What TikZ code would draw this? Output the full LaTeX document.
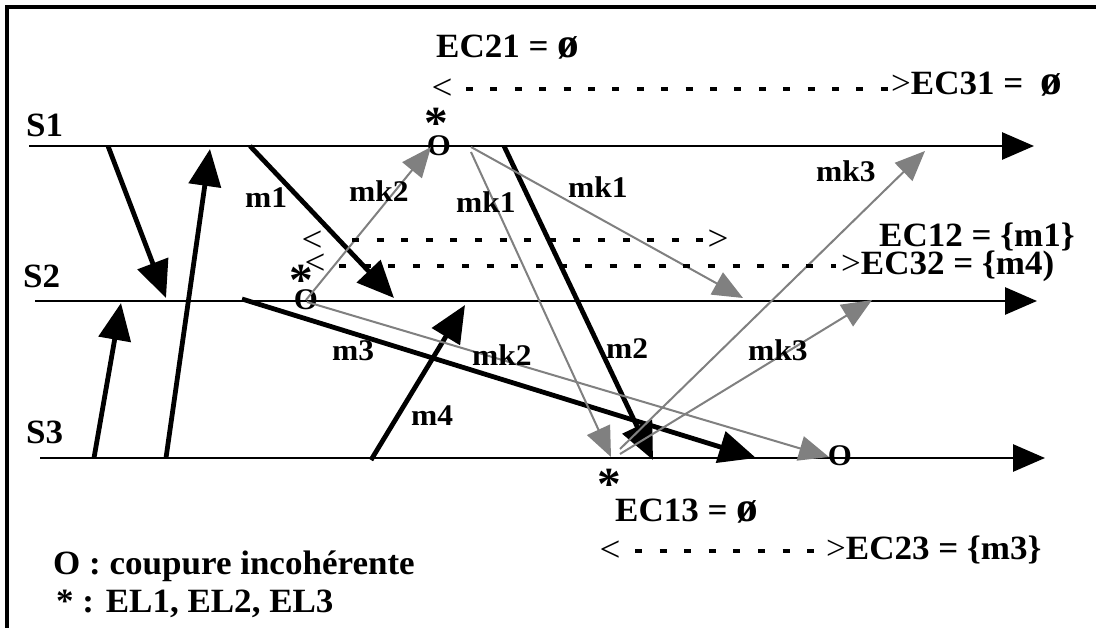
\documentclass[tikz,border=0pt]{standalone}
\usepackage{fontspec}
\setmainfont{Liberation Serif}
\newfontfamily\lblfont[FakeStretch=1.03]{Liberation Serif}
\newfontfamily\msgfont[FakeStretch=1.05]{Liberation Serif}
\usetikzlibrary{arrows.meta}
\definecolor{ckgray}{gray}{0.5}
% empty channel state sign, set a little larger than the text
\newcommand\ecnone{{\fontsize{42}{42}\selectfont ø}}
\begin{document}
\begin{tikzpicture}[x=1pt,y=-1pt,
  timeline/.style={line width=2.8pt,-{Triangle[length=32pt,width=27pt]}},
  msg/.style={line width=4.8pt,-{Triangle[length=37pt,width=32pt]}},
  ckmsg/.style={draw=ckgray,line width=2pt,-{Triangle[length=30pt,width=25pt]}},
  dashrow/.style={line width=4pt,dash pattern=on 7pt off 17.6pt},
  lbl/.style={inner sep=0pt,anchor=base west,font=\msgfont\bfseries\fontsize{30}{34}\selectfont},
  big/.style={inner sep=0pt,anchor=base west,font=\lblfont\bfseries\fontsize{34}{38}\selectfont},
  sym/.style={inner sep=0pt,font=\lblfont\fontsize{36}{40}\selectfont},
  omark/.style={inner sep=0pt,font=\lblfont\bfseries\fontsize{30}{34}\selectfont},
  star/.style={inner sep=0pt,anchor=base,font=\lblfont\bfseries\fontsize{46}{50}\selectfont},
]
\fill[white] (0,0) rectangle (1096,628);
\useasboundingbox (0,0) rectangle (1096,628);

% frame
\draw[line width=4pt] (7,628) -- (7,7) -- (1096,7);

% process time lines
\coordinate (s1a) at (29,146);  \coordinate (s1b) at (1034,146);
\coordinate (s2a) at (35,301);  \coordinate (s2b) at (1037,301);
\coordinate (s3a) at (40,458);  \coordinate (s3b) at (1045,458);
\draw[timeline] (s1a) -- (s1b);
\draw[timeline] (s2a) -- (s2b);
\draw[timeline] (s3a) -- (s3b);
\node[big] (S1) at (26,137) {S1};
\node[big] (S2) at (23,288) {S2};
\node[big] (S3) at (26,443) {S3};

% application messages
\coordinate (a0) at (108,146); \coordinate (a1) at (166,298);
\coordinate (b0) at (166,458); \coordinate (b1) at (210,149);
\coordinate (c0) at (94,458);  \coordinate (c1) at (121,303);
\coordinate (m1a) at (250,146); \coordinate (m1b) at (394,298);
\coordinate (m2a) at (504,146); \coordinate (m2b) at (653,460);
\coordinate (m3a) at (242,299); \coordinate (m3b) at (756,458);
\coordinate (m4a) at (371,460); \coordinate (m4b) at (465,305);
\draw[msg] (a0) -- (a1);
\draw[msg] (b0) -- (b1);
\draw[msg] (c0) -- (c1);
\draw[msg] (m1a) -- (m1b);
\draw[msg] (m2a) -- (m2b);
\draw[msg] (m3a) -- (m3b);
\draw[msg] (m4a) -- (m4b);

% checkpoint markers
\node[omark] (o1) at (439,146) {O};
\node[omark] (o2) at (306,300) {O};
\node[omark] (o3) at (840,456) {O};
\node[star] (st1) at (436,139) {*};
\node[star] (st2) at (301,296) {*};
\node[star] (st3) at (609,500) {*};

% marker messages
\coordinate (k2a) at (306,300); \coordinate (k2b) at (431,147);
\coordinate (k1a) at (471,147); \coordinate (k1b) at (743,298);
\coordinate (k1c) at (471,152); \coordinate (k1d) at (611,457);
\coordinate (k2c) at (307,302); \coordinate (k2d) at (829,457);
\coordinate (k3a) at (620,449); \coordinate (k3b) at (925,151);
\coordinate (k3c) at (620,454); \coordinate (k3d) at (872,300);
\draw[ckmsg] (k2a) -- (k2b);
\draw[ckmsg] (k1a) -- (k1b);
\draw[ckmsg] (k1c) -- (k1d);
\draw[ckmsg] (k2c) -- (k2d);
\draw[ckmsg] (k3a) -- (k3b);
\draw[ckmsg] (k3c) -- (k3d);

% message labels
\node[lbl] (lm1) at (245,208) {m1};
\node[lbl] (lk2) at (349,202) {mk2};
\node[lbl] (lk1) at (456,213) {mk1};
\node[lbl] (lk1b) at (568,198) {mk1};
\node[lbl] (lk3) at (816,182) {mk3};
\node[lbl] (lm3) at (332,361) {m3};
\node[lbl] (lk2b) at (472,366) {mk2};
\node[lbl] (lm4) at (411,426) {m4};
\node[lbl] (lm2) at (606,359) {m2};
\node[lbl] (lk3b) at (748,361) {mk3};

% channel states
\node[big] (ec21) at (436,58) {EC21 = \ecnone};
\node[sym] (lt1) at (442,89) {<};
\coordinate (d1a) at (466,89); \coordinate (d1b) at (888,89);
\draw[dashrow,dash pattern=on 7pt off 17.4pt] (d1a) -- (d1b);
\node[big] (ec31) at (891,95) {{\mdseries >}EC31 =~~\ecnone};

\node[sym] (lt2) at (312,241) {<};
\coordinate (d2a) at (352,240); \coordinate (d2b) at (704,240);
\draw[dashrow] (d2a) -- (d2b);
\node[sym] (gt2) at (718,240) {>};
\node[big] (ec12) at (879,247) {EC12 = \{m1\}};

\node[sym] (lt3) at (315,264) {<};
\coordinate (d3a) at (339,266); \coordinate (d3b) at (836,266);
\draw[dashrow] (d3a) -- (d3b);
\node[big] (ec32) at (841,275) {{\mdseries >}EC32 = \{m4)};

\node[big] (ec13) at (615,521) {EC13 = \ecnone};
\node[sym] (lt4) at (610,551) {<};
\coordinate (d4a) at (635,551); \coordinate (d4b) at (814,551);
\draw[dashrow] (d4a) -- (d4b);
\node[big] (ec23) at (826,559) {{\mdseries >}EC23 = \{m3\}};

% legend
\node[big] (leg1) at (53,574) {O : coupure incohérente};
\node[big] (leg2) at (56,612) {* : EL1, EL2, EL3};
\end{tikzpicture}
\end{document}
